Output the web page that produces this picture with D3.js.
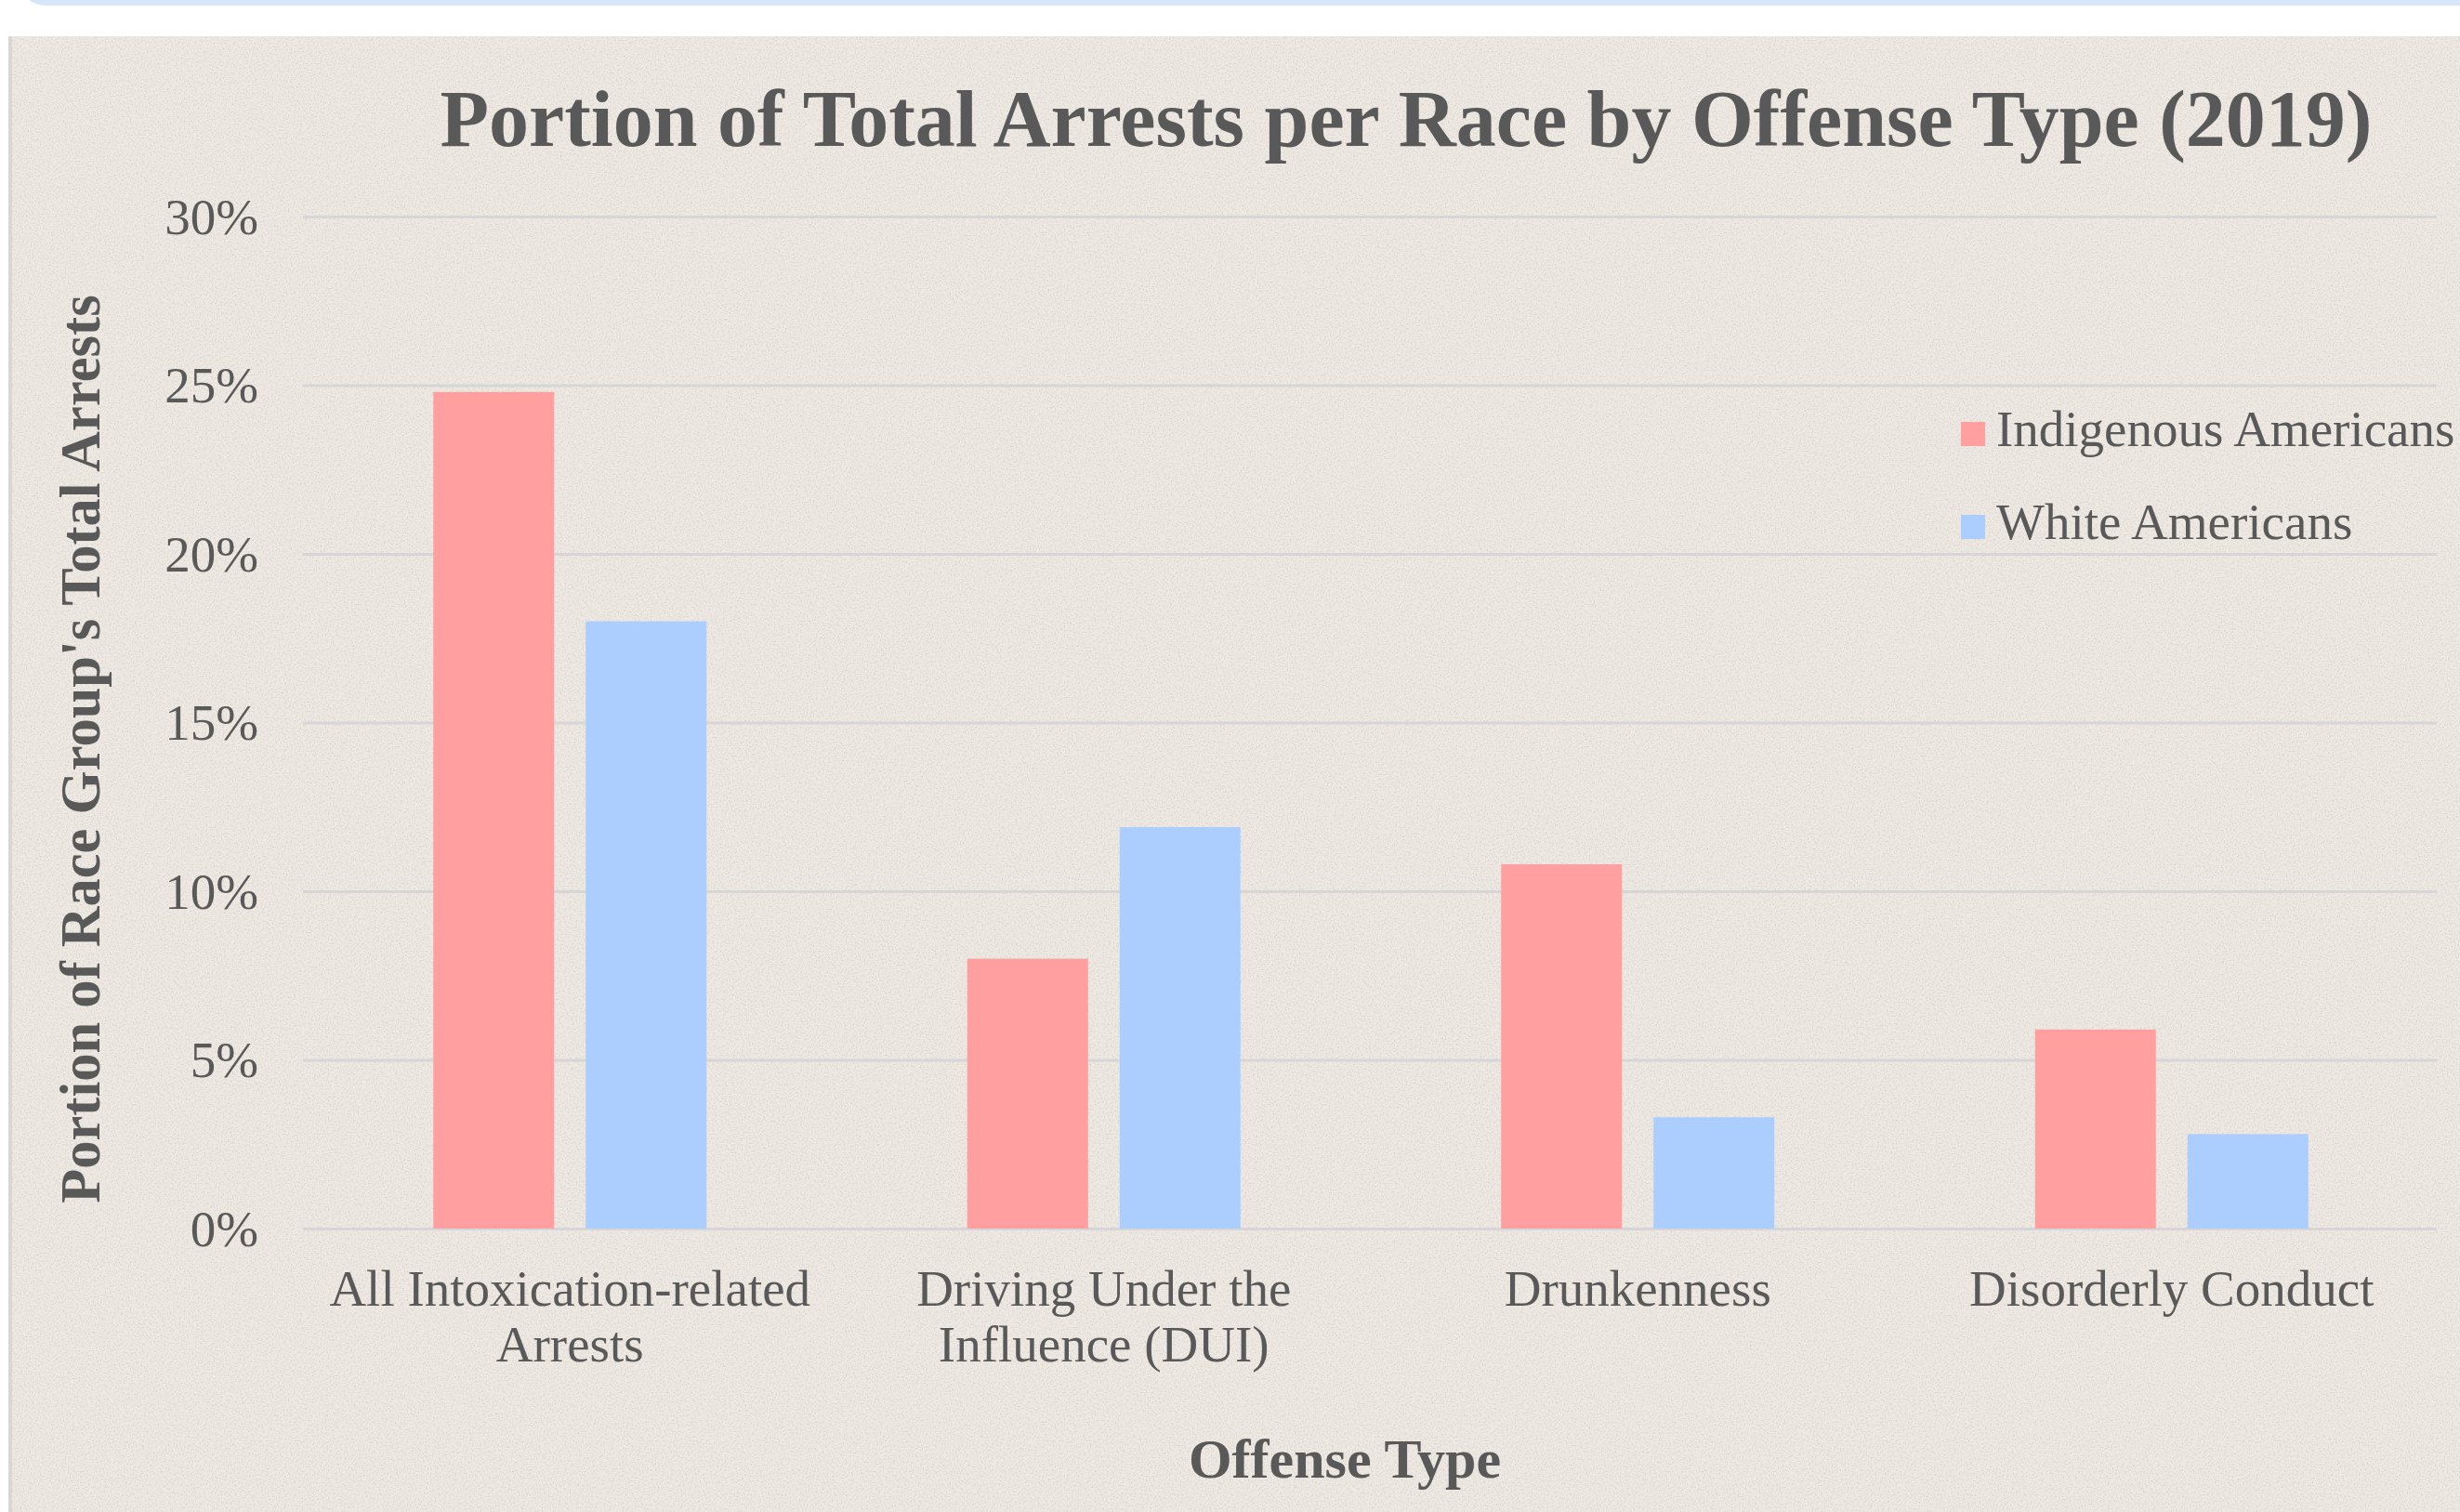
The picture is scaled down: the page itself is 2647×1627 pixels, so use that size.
<!DOCTYPE html>
<html>
<head>
<meta charset="utf-8">
<script src="https://cdn.jsdelivr.net/npm/d3@7"></script>
<style>
  html, body { margin: 0; padding: 0; background: #ffffff; }
  svg { display: block; }
  text { font-family: "Liberation Serif", "Times New Roman", serif; fill: #595959; }
</style>
</head>
<body>
<svg id="chart" width="2647" height="1627"></svg>
<script>
// ---- data ----
const categories = ["All Intoxication-related Arrests", "Driving Under the Influence (DUI)", "Drunkenness", "Disorderly Conduct"];
const categoryLines = [["All Intoxication-related", "Arrests"], ["Driving Under the", "Influence (DUI)"], ["Drunkenness"], ["Disorderly Conduct"]];
const seriesNames = ["Indigenous Americans", "White Americans"];
const indigenousValues = [0.248, 0.080, 0.108, 0.059];
const whiteValues = [0.180, 0.119, 0.033, 0.028];
const yTicks = [0, 0.05, 0.10, 0.15, 0.20, 0.25, 0.30];
const titleText = "Portion of Total Arrests per Race by Offense Type (2019)";
const yTitleText = "Portion of Race Group's Total Arrests";
const xTitleText = "Offense Type";

// ---- layout ----
const W = 2647, H = 1627;
const plot = { left: 326, right: 2624, top: 233, bottom: 1322 };
const colors = { "Indigenous Americans": "#FF9F9F", "White Americans": "#ABCEFE" };

const svg = d3.select("#chart");

// background: top banner, panel, texture
const defs = svg.append("defs");
const f = defs.append("filter").attr("id", "grain").attr("x", 0).attr("y", 0).attr("width", "100%").attr("height", "100%");
f.append("feTurbulence").attr("type", "fractalNoise").attr("baseFrequency", 0.6).attr("numOctaves", 2).attr("seed", 3).attr("result", "n");
f.append("feColorMatrix").attr("in", "n").attr("type", "matrix")
  .attr("values", "0 0 0 0 0.50  0 0 0 0 0.48  0 0 0 0 0.45  0 0 0 -3 1.6");
f.append("feComposite").attr("in2", "SourceGraphic").attr("operator", "in");

svg.append("rect").attr("x", 0).attr("y", 0).attr("width", W).attr("height", H).attr("fill", "#ffffff");
svg.append("rect").attr("x", 22).attr("y", -40).attr("width", W + 60).attr("height", 46).attr("rx", 28).attr("fill", "#D6E5FA");
svg.append("rect").attr("x", 10).attr("y", 39).attr("width", W).attr("height", H).attr("fill", "#EEE9E2");
svg.append("rect").attr("x", 10).attr("y", 39).attr("width", W).attr("height", H).attr("fill", "#EEE9E2").attr("filter", "url(#grain)").attr("opacity", 0.4);
svg.append("rect").attr("x", 9).attr("y", 39).attr("width", 4).attr("height", H).attr("fill", "#D9D7D4");

// scales
const x0 = d3.scaleBand().domain(categories).range([plot.left, plot.right]).paddingInner(0).paddingOuter(0);
const x1 = d3.scaleBand().domain(seriesNames)
  .range([x0.bandwidth() / 2 - 147, x0.bandwidth() / 2 + 147]).paddingInner(0.2073);
const y = d3.scaleLinear().domain([0, 0.30]).range([plot.bottom, plot.top]);

// gridlines + y tick labels
const yAxis = svg.append("g").attr("transform", `translate(${plot.left},0)`)
  .call(d3.axisLeft(y).tickValues(yTicks).tickFormat(d3.format(".0%"))
    .tickSize(-(2622 - plot.left)).tickPadding(48));
yAxis.select(".domain").remove();
yAxis.selectAll(".tick line").attr("stroke", "#D6D6D8").attr("stroke-width", 3);
yAxis.selectAll(".tick text").attr("font-size", 55).attr("fill", "#595959")
  .attr("font-family", "Liberation Serif, Times New Roman, serif").attr("dy", "0.33em");

// bars
const rows = categories.map((c, i) => ({ cat: c, vals: [
  { s: seriesNames[0], v: indigenousValues[i] },
  { s: seriesNames[1], v: whiteValues[i] } ] }));
const groups = svg.append("g").selectAll("g").data(rows).join("g")
  .attr("transform", d => `translate(${x0(d.cat)},0)`);
groups.selectAll("rect").data(d => d.vals).join("rect")
  .attr("x", d => x1(d.s)).attr("width", x1.bandwidth())
  .attr("y", d => y(d.v)).attr("height", d => y(0) - y(d.v))
  .attr("fill", d => colors[d.s]);

// x axis category labels
const xAxis = svg.append("g").attr("transform", `translate(0,${plot.bottom})`)
  .call(d3.axisBottom(x0).tickSize(0).tickFormat(""));
xAxis.select(".domain").remove();
xAxis.selectAll(".tick").each(function(d, i) {
  const t = d3.select(this).select("text").attr("dy", null).attr("y", 83)
    .attr("font-size", 55).attr("fill", "#595959")
    .attr("font-family", "Liberation Serif, Times New Roman, serif");
  categoryLines[i].forEach((line, j) => {
    t.append("tspan").attr("x", 0).attr("y", 83 + j * 60).text(line);
  });
});

// title
svg.append("text").attr("x", 1513).attr("y", 157).attr("text-anchor", "middle")
  .attr("font-size", 86).attr("font-weight", "bold").text(titleText);

// y axis title
svg.append("text").attr("transform", "translate(107,806) rotate(-90)").attr("text-anchor", "middle")
  .attr("font-size", 60.5).attr("font-weight", "bold").text(yTitleText);

// x axis title
svg.append("text").attr("x", 1447).attr("y", 1590).attr("text-anchor", "middle")
  .attr("font-size", 60).attr("font-weight", "bold").text(xTitleText);

// legend
const legend = svg.append("g").selectAll("g").data(seriesNames).join("g")
  .attr("transform", (d, i) => `translate(2110,${480 + i * 100})`);
legend.append("rect").attr("x", 0).attr("y", -26).attr("width", 26).attr("height", 26)
  .attr("fill", d => colors[d]);
legend.append("text").attr("x", 38).attr("y", 0).attr("font-size", 55).text(d => d);
</script>
</body>
</html>
